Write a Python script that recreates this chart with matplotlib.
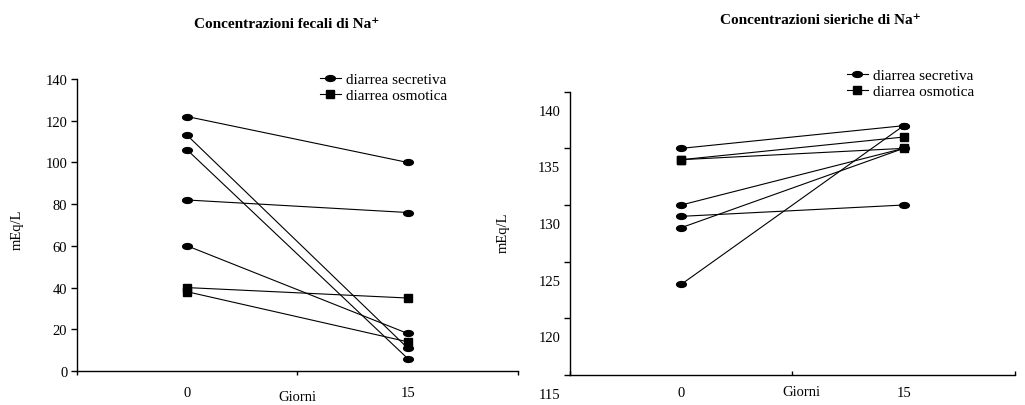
import numpy as np
import matplotlib
matplotlib.use("Agg")
import matplotlib.pyplot as plt
import matplotlib.transforms as mtrans
from matplotlib.path import Path
from matplotlib.lines import Line2D

plt.rcParams['font.family'] = ['Liberation Serif', 'DejaVu Serif']

days = [0, 15]

# fecal Na+ (mEq/L)
fec_sec_day0 = [122, 113, 106, 82, 60]
fec_sec_day15 = [100, 11, 6, 76, 18]
fec_osm_day0 = [40, 38]
fec_osm_day15 = [35, 14]

# serum Na+ (mEq/L)
ser_sec_day0 = [135, 130, 129, 128, 123]
ser_sec_day15 = [137, 135, 130, 135, 137]
ser_osm_day0 = [134, 134]
ser_osm_day15 = [136, 135]

fec_yticks = [0, 20, 40, 60, 80, 100, 120, 140]
ser_yticks = [115, 120, 125, 130, 135, 140]

titles = ["Concentrazioni fecali di Na⁺", "Concentrazioni sieriche di Na⁺"]
legend_labels = ["diarrea secretiva", "diarrea osmotica"]

# flat ellipse marker like the original
ellipse = Path.unit_circle().transformed(mtrans.Affine2D().scale(1, 0.6))

fig = plt.figure(figsize=(10.25, 4.06), dpi=100)


def draw_pairs(ax, d0, d15, marker, ms):
    for a, b in zip(d0, d15):
        ax.plot(days, [a, b], color="black", lw=0.8, marker=marker,
                ms=ms, mfc="black", mec="black")


def setup_axes(ax, yticks, xtick_dir, label_pad):
    ax.set_xlim(-7.5, 22.5)
    ax.set_ylim(yticks[0], yticks[-1])
    ax.spines['top'].set_visible(False)
    ax.spines['right'].set_visible(False)
    ax.spines['left'].set_linewidth(1.0)
    ax.spines['bottom'].set_linewidth(1.0)
    ax.set_yticks(yticks)
    ax.set_yticklabels([str(t) for t in yticks])
    # tick marks sit between the two days, labels sit on the days
    ax.set_xticks([-7.5, 7.5, 22.5])
    ax.set_xticklabels(["", "", ""])
    ax.set_xticks(days, minor=True)
    ax.set_xticklabels([str(d) for d in days], minor=True)
    ax.tick_params(axis='x', which='major', direction=xtick_dir, length=3, width=1)
    ax.tick_params(axis='x', which='minor', length=0, pad=label_pad, labelsize=10.5)
    ax.tick_params(axis='y', direction='out', length=4, width=1, labelsize=10.5, pad=3)


# left panel
ax1 = fig.add_axes([0.0751, 0.0837, 0.4302, 0.7192])
draw_pairs(ax1, fec_sec_day0, fec_sec_day15, ellipse, 7)
draw_pairs(ax1, fec_osm_day0, fec_osm_day15, 's', 5.5)
setup_axes(ax1, fec_yticks, 'out', 11)
ax1.set_xlabel("Giorni", fontsize=10.5)
ax1.xaxis.set_label_coords(0.499, -0.088)
ax1.xaxis.label.set_va('center')
ax1.set_ylabel("mEq/L", fontsize=10.5)
ax1.yaxis.set_label_coords(-0.136, 0.486)
ax1.yaxis.label.set_va('center')

# right panel
ax2 = fig.add_axes([0.5561, 0.0739, 0.4341, 0.6978])
draw_pairs(ax2, ser_sec_day0, ser_sec_day15, ellipse, 7)
draw_pairs(ax2, ser_osm_day0, ser_osm_day15, 's', 5.5)
setup_axes(ax2, ser_yticks, 'in', 8)
ax2.set_xlabel("Giorni", fontsize=10.5)
ax2.xaxis.set_label_coords(0.521, -0.06)
ax2.xaxis.label.set_va('center')
ax2.set_ylabel("mEq/L", fontsize=10.5)
ax2.yaxis.set_label_coords(-0.151, 0.505)
ax2.yaxis.label.set_va('center')

# the serum tick labels sit lower than their ticks in the original
shift = mtrans.ScaledTranslation(0, -0.18, fig.dpi_scale_trans)
for lab in ax2.get_yticklabels():
    lab.set_transform(lab.get_transform() + shift)

# legends
handles = [
    Line2D([], [], color="black", lw=0.8, marker=ellipse, ms=7),
    Line2D([], [], color="black", lw=0.8, marker='s', ms=5.5),
]
for ax, anchor in [(ax1, (0.312, 0.783)), (ax2, (0.826, 0.793))]:
    ax.legend(handles, legend_labels, loc='center left', bbox_to_anchor=anchor,
              bbox_transform=fig.transFigure, frameon=False, fontsize=11,
              handlelength=1.4, handletextpad=0.3, labelspacing=0.15,
              borderpad=0, borderaxespad=0, numpoints=1)

fig.text(287 / 1025, 1 - 25 / 406, titles[0], ha='center', va='center',
         fontsize=11, fontweight='bold')
fig.text(820 / 1025, 1 - 20 / 406, titles[1], ha='center', va='center',
         fontsize=11, fontweight='bold')

fig.savefig("out.png", dpi=100)
